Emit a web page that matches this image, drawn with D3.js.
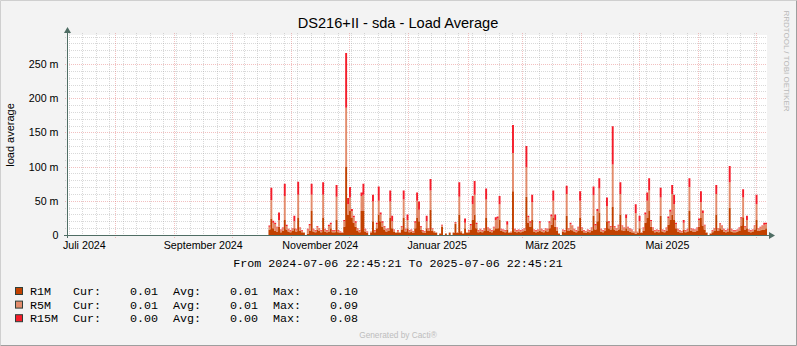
<!DOCTYPE html>
<html>
<head>
<meta charset="utf-8">
<script src="https://cdn.jsdelivr.net/npm/d3@7"></script>
<style>
  html, body { margin: 0; padding: 0; background: #f3f3f3; }
  svg { display: block; }
</style>
</head>
<body>
<svg id="chart" width="797" height="346"></svg>
<script>
// ---- chart text ----
const chartTitle = "DS216+II - sda - Load Average";
const yAxisTitle = "load average";
const periodText = "From 2024-07-06 22:45:21 To 2025-07-06 22:45:21";
const watermark = "RRDTOOL / TOBI OETIKER";
const footer = "Generated by Cacti\u00AE";

// ---- time range ----
const rangeStart = new Date(2024, 6, 6, 22, 45, 21);
const rangeEnd = new Date(2025, 6, 6, 22, 45, 21);
const firstDay = new Date(2024, 9, 20); // first daily sample

// ---- daily load values (milli), ten days per row ----
const r1m = [
  8,24,10,6,5,12,4,6,22,8,
  5,4,6,10,5,25,6,4,3,0,
  2,6,35,5,4,8,6,4,25,5,
  4,5,10,4,4,22,4,3,3,12,
  100,30,35,25,18,12,6,4,35,35,
  5,3,0,3,20,4,10,30,20,12,
  8,5,6,25,10,5,3,4,3,8,
  25,5,10,4,5,3,10,25,20,8,
  4,3,10,6,37,6,4,3,0,2,
  12,0,2,0,3,0,3,16,3,30,
  4,2,10,3,4,8,22,30,10,4,
  5,4,6,25,6,5,4,7,10,10,
  22,6,5,4,8,3,3,64,5,4,
  5,4,5,6,56,18,12,22,5,4,
  5,6,5,4,6,5,10,15,25,12,
  6,2,0,5,4,28,6,8,7,5,
  4,6,25,6,4,3,5,4,6,28,
  8,20,32,5,4,6,20,10,8,41,
  8,6,8,30,7,6,10,6,5,4,
  3,2,3,10,3,6,18,25,35,12,
  6,4,5,4,28,5,4,6,15,22,
  30,22,10,5,4,3,8,4,5,35,
  6,5,5,6,12,25,14,8,3,0,
  2,4,6,30,6,10,8,5,4,5,
  40,5,4,4,5,6,14,26,8,10,
  5,4,5,8,22,6,7,8,8,10
];
const r5m = [
  4,27,8,10,6,10,3,4,35,5,
  3,2,3,10,3,34,4,2,1,0,
  6,8,24,3,2,4,3,2,34,3,
  2,8,6,2,2,34,2,1,1,8,
  86,15,20,10,8,6,3,2,22,24,
  3,1,0,2,29,2,6,20,10,6,
  4,3,3,24,10,2,1,2,1,4,
  27,3,12,2,2,2,8,25,17,4,
  2,2,10,3,28,3,2,1,0,1,
  2,0,1,0,1,0,1,2,1,26,
  2,1,8,1,2,6,23,29,6,2,
  3,2,3,27,4,3,2,4,12,14,
  23,2,2,2,7,1,2,56,3,2,
  2,2,2,3,43,8,6,26,2,2,
  2,12,3,2,3,3,8,12,25,10,
  4,1,0,2,2,32,3,8,6,3,
  2,5,25,4,2,2,2,2,4,30,
  6,15,36,3,2,3,22,8,4,62,
  4,3,6,30,6,4,15,5,4,3,
  2,30,2,10,1,4,12,25,30,8,
  4,2,2,2,27,2,2,4,10,12,
  30,23,6,3,2,2,10,2,3,35,
  3,3,2,4,10,23,18,6,1,0,
  1,2,3,30,3,6,5,3,2,3,
  37,3,2,2,2,4,10,29,4,12,
  2,2,2,5,23,3,4,5,7,6
];
const r15m = [
  2,18,3,2,1,11,1,1,18,2,
  1,1,1,8,1,19,1,1,0,0,
  1,2,16,1,1,1,1,1,18,1,
  1,2,2,1,1,17,1,1,0,2,
  80,9,15,3,2,2,1,1,5,16,
  1,1,0,0,10,1,2,21,3,2,
  1,1,1,16,8,1,0,1,0,1,
  13,1,8,1,1,1,2,12,12,1,
  1,1,8,1,17,1,0,0,0,0,
  1,0,0,0,0,0,0,1,0,21,
  0,0,6,0,1,2,12,20,2,1,
  1,1,1,16,1,1,1,1,4,3,
  12,1,1,1,5,0,0,41,1,1,
  1,1,1,1,31,2,2,11,1,1,
  1,2,1,1,1,1,2,3,15,8,
  1,0,0,1,1,12,1,2,1,1,
  1,1,14,1,1,1,1,1,1,13,
  2,3,15,1,1,1,13,2,1,56,
  1,1,1,17,1,1,5,1,1,1,
  0,13,0,8,0,1,3,12,18,2,
  1,1,1,1,14,1,1,1,2,3,
  13,14,2,1,1,1,4,1,1,13,
  1,1,1,1,2,16,4,1,0,0,
  0,1,1,13,1,1,1,1,1,1,
  24,1,1,1,1,1,2,12,1,6,
  1,1,1,1,14,1,1,1,3,2
];

// ---- series / legend ----
const seriesNames = ["R1M", "R5M", "R15M"];
const seriesColors = ["#C24100", "#E38C6C", "#F51D2A"];
const legendCur = ["0.01", "0.01", "0.00"];
const legendAvg = ["0.01", "0.01", "0.00"];
const legendMax = ["0.10", "0.09", "0.08"];

// ---- axes ----
const yTicks = [0, 50, 100, 150, 200, 250];
const yMinorStep = 10;
const yTop = 292.4;
const xLabelMonths = [
  new Date(2024, 6, 1), new Date(2024, 8, 1), new Date(2024, 10, 1),
  new Date(2025, 0, 1), new Date(2025, 2, 1), new Date(2025, 4, 1)
];
const xLabels = ["Juli 2024", "September 2024", "November 2024", "Januar 2025", "M\u00E4rz 2025", "Mai 2025"];

// ---- layout ----
const W = 797, H = 346;
const P = { left: 67, right: 767, top: 35, bottom: 235 };
const sansFont = "'Liberation Sans', Arial, sans-serif";
const monoFont = "'Liberation Mono', 'Courier New', monospace";

const svg = d3.select("#chart");

// background and bevelled frame
svg.append("rect").attr("width", W).attr("height", H).attr("fill", "#f3f3f3");
svg.append("path").attr("d", `M0.5,${H - 0.5}V0.5H${W - 0.5}`)
  .attr("fill", "none").attr("stroke", "#cfcfcf");
svg.append("path").attr("d", `M0.5,${H - 0.5}H${W - 0.5}V0.5`)
  .attr("fill", "none").attr("stroke", "#9e9e9e");

const x = d3.scaleTime().domain([rangeStart, rangeEnd]).range([P.left, P.right]);
const y = d3.scaleLinear().domain([0, yTop]).range([P.bottom, P.top]);
const px = v => Math.round(v) + 0.5;

// canvas
svg.append("rect")
  .attr("x", P.left).attr("y", P.top)
  .attr("width", P.right - P.left).attr("height", P.bottom - P.top)
  .attr("fill", "#ffffff");

const grid = svg.append("g").attr("shape-rendering", "crispEdges");
const minorStroke = "rgba(150,150,150,0.36)";
const majorStroke = "rgba(222,90,90,0.38)";

// horizontal grid
d3.range(0, yTop, yMinorStep).filter(v => v % 50 !== 0).forEach(v => {
  grid.append("line")
    .attr("x1", P.left - 2).attr("x2", P.right)
    .attr("y1", px(y(v))).attr("y2", px(y(v)))
    .attr("stroke", minorStroke).attr("stroke-dasharray", "1,1");
});
yTicks.filter(v => v > 0).forEach(v => {
  grid.append("line")
    .attr("x1", P.left - 2).attr("x2", P.right)
    .attr("y1", px(y(v))).attr("y2", px(y(v)))
    .attr("stroke", majorStroke).attr("stroke-dasharray", "1,1");
});

// vertical grid: weeks (minor) and months (major)
const months = d3.timeMonth.range(rangeStart, rangeEnd);
const monthSet = new Set(months.map(d => +d));
d3.timeMonday.range(rangeStart, rangeEnd).filter(d => !monthSet.has(+d)).forEach(d => {
  grid.append("line")
    .attr("x1", px(x(d))).attr("x2", px(x(d)))
    .attr("y1", P.top - 2).attr("y2", P.bottom + 2)
    .attr("stroke", minorStroke).attr("stroke-dasharray", "1,1");
});
months.forEach(d => {
  grid.append("line")
    .attr("x1", px(x(d))).attr("x2", px(x(d)))
    .attr("y1", P.top - 2).attr("y2", P.bottom + 3)
    .attr("stroke", majorStroke).attr("stroke-dasharray", "1,1");
});

// ---- stacked areas ----
const rows = r1m.map((v, i) => ({
  date: d3.timeDay.offset(firstDay, i),
  R1M: v, R5M: r5m[i], R15M: r15m[i]
}));
// closing sample so the last daily step reaches the end of the range
rows.push(Object.assign({}, rows[rows.length - 1], { date: rangeEnd }));

const stacked = d3.stack().keys(seriesNames)(rows);
const area = d3.area()
  .x(d => x(d.data.date))
  .y0(d => y(d[0]))
  .y1(d => y(d[1]))
  .curve(d3.curveStepAfter);

svg.append("g").selectAll("path")
  .data(stacked)
  .join("path")
  .attr("d", area)
  .attr("fill", (d, i) => seriesColors[i]);

// ---- axes ----
const axisColor = "#4f6d64";
svg.append("line")
  .attr("x1", P.left - 3).attr("x2", P.right + 4)
  .attr("y1", P.bottom + 0.5).attr("y2", P.bottom + 0.5)
  .attr("stroke", axisColor);
svg.append("line")
  .attr("x1", P.left + 0.5).attr("x2", P.left + 0.5)
  .attr("y1", P.bottom + 3).attr("y2", P.top - 4)
  .attr("stroke", axisColor);
svg.append("path")
  .attr("d", `M${P.right + 2},${P.bottom - 3}L${P.right + 8},${P.bottom + 0.5}L${P.right + 2},${P.bottom + 4}Z`)
  .attr("fill", axisColor);
svg.append("path")
  .attr("d", `M${P.left - 3},${P.top - 2}L${P.left + 0.5},${P.top - 8}L${P.left + 4},${P.top - 2}Z`)
  .attr("fill", axisColor);

// y tick labels
const yAxis = d3.axisLeft(y)
  .tickValues(yTicks)
  .tickSize(0)
  .tickPadding(8.5)
  .tickFormat(v => v === 0 ? "0" : `${v} m`);
const yAxisG = svg.append("g").attr("transform", `translate(${P.left},0)`).call(yAxis);
yAxisG.select(".domain").remove();
yAxisG.selectAll("text")
  .attr("font-family", sansFont).attr("font-size", "10.7px").attr("fill", "#000");

// x labels, centred half a month after each labelled month start
svg.append("g").selectAll("text")
  .data(xLabelMonths)
  .join("text")
  .attr("x", d => x(d3.timeDay.offset(d, 15)))
  .attr("y", 249)
  .attr("text-anchor", "middle")
  .attr("font-family", sansFont).attr("font-size", "10.7px")
  .text((d, i) => xLabels[i]);

// titles
svg.append("text")
  .attr("x", 398).attr("y", 28)
  .attr("text-anchor", "middle")
  .attr("font-family", sansFont).attr("font-size", "14.6px")
  .text(chartTitle);

svg.append("text")
  .attr("transform", "translate(14,135) rotate(-90)")
  .attr("text-anchor", "middle")
  .attr("font-family", sansFont).attr("font-size", "11px")
  .text(yAxisTitle);

svg.append("text")
  .attr("transform", "translate(784,61) rotate(90)")
  .attr("text-anchor", "middle")
  .attr("font-family", sansFont).attr("font-size", "8px")
  .attr("fill", "#b8b8b8")
  .text(watermark);

svg.append("text")
  .attr("x", 398).attr("y", 266.5)
  .attr("text-anchor", "middle")
  .attr("font-family", monoFont).attr("font-size", "11.7px")
  .text(periodText);

// ---- legend ----
const legend = svg.append("g");
seriesNames.forEach((name, i) => {
  const base = 295 + i * 13.6;
  legend.append("rect")
    .attr("x", 15.5).attr("y", base - 7.5)
    .attr("width", 7).attr("height", 7)
    .attr("fill", seriesColors[i]).attr("stroke", "#2f3f3a");
  const cells = [
    [30, name], [73, "Cur:"], [130, legendCur[i]],
    [173, "Avg:"], [230, legendAvg[i]], [273, "Max:"], [330, legendMax[i]]
  ];
  cells.forEach(([cx, t]) => {
    legend.append("text")
      .attr("x", cx).attr("y", base)
      .attr("font-family", monoFont).attr("font-size", "11.7px")
      .text(t);
  });
});

svg.append("text")
  .attr("x", 398).attr("y", 338)
  .attr("text-anchor", "middle")
  .attr("font-family", sansFont).attr("font-size", "8.3px")
  .attr("fill", "#bdbdbd")
  .text(footer);
</script>
</body>
</html>
